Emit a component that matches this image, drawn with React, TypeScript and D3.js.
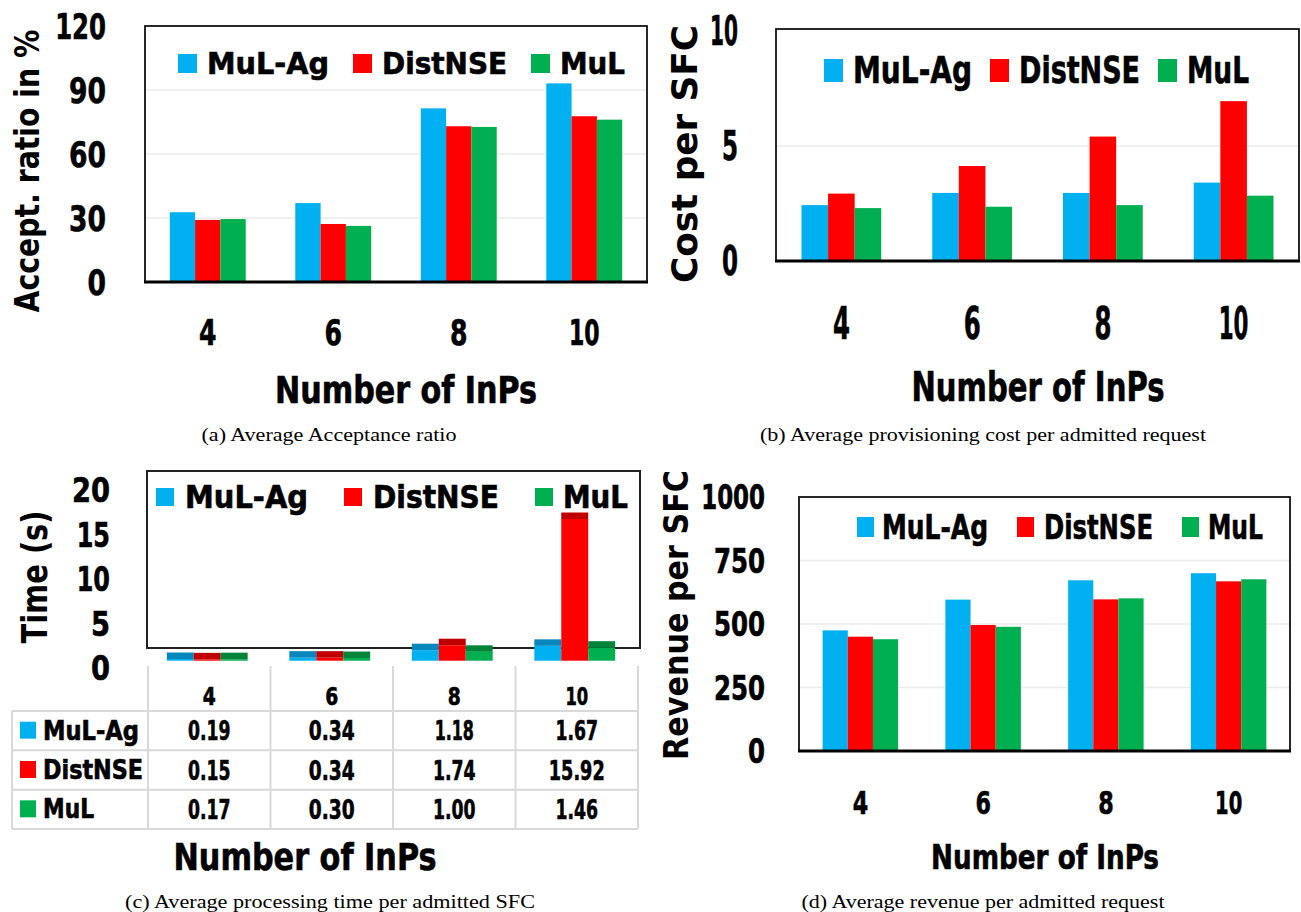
import React from 'react';
import * as d3 from 'd3';

// categories and series
const inps = ['4', '6', '8', '10'];
const series = ['MuL-Ag', 'DistNSE', 'MuL'];
const colors = ['#00B0F0', '#FF0000', '#00B050'];
const capColors = ['#0787BC', '#C00000', '#00843A'];

// (a) acceptance ratio in %
const acceptMuLAg = [32.7, 37.0, 81.4, 93.1];
const acceptDistNSE = [29.1, 27.2, 73.0, 77.7];
const acceptMuL = [29.5, 26.3, 72.7, 76.1];
const acceptTicks = [0, 30, 60, 90, 120];

// (b) cost per SFC
const costMuLAg = [2.43, 2.96, 2.96, 3.41];
const costDistNSE = [2.93, 4.13, 5.41, 6.95];
const costMuL = [2.3, 2.36, 2.43, 2.84];
const costTicks = [0, 5, 10];

// (c) processing time (s)
const timeMuLAg = [0.19, 0.34, 1.18, 1.67];
const timeDistNSE = [0.15, 0.34, 1.74, 15.92];
const timeMuL = [0.17, 0.3, 1.0, 1.46];
const timeTicks = [0, 5, 10, 15, 20];

// (d) revenue per SFC
const revMuLAg = [475, 596, 672, 700];
const revDistNSE = [450, 496, 597, 668];
const revMuL = [440, 489, 601, 676];
const revTicks = [0, 250, 500, 750, 1000];

const COND = "'DejaVu Sans Condensed', 'Liberation Sans Narrow', 'DejaVu Sans', sans-serif";
const WIDE = "'DejaVu Sans', 'Liberation Sans', sans-serif";
const SERIF = "'Liberation Serif', 'Times New Roman', serif";

// rough width of a number label in the narrow original font
function numWidth(s: string, d: number) {
  let w = 0;
  for (const c of s) w += c === '1' ? 0.75 * d : c === '.' ? 0.45 * d : d;
  return w;
}

function Txt(props: any) {
  const { x, y, size, len, anchor = 'middle', family = COND, weight = 700, rot = false, base = 'central', heavy = family === COND, children } = props;
  return (
    <text
      x={x}
      y={y}
      fontSize={size}
      fontFamily={family}
      fontWeight={weight}
      textAnchor={anchor}
      dominantBaseline={base}
      textLength={len}
      lengthAdjust={len ? 'spacingAndGlyphs' : undefined}
      transform={rot ? `rotate(-90 ${x} ${y})` : undefined}
      fill="#000"
      stroke={heavy ? '#000' : undefined}
      strokeWidth={heavy ? 0.6 : undefined}
    >
      {children}
    </text>
  );
}

function Legend({ lg }: any) {
  return (
    <g>
      {series.map((s, i) => (
        <g key={s}>
          <rect x={lg.sq[i]} y={lg.sqY} width={lg.w} height={lg.h} fill={colors[i]} />
          <Txt x={lg.tx[i]} y={lg.base} size={lg.size} len={lg.lens[i]} anchor="start" base="alphabetic">
            {s}
          </Txt>
        </g>
      ))}
    </g>
  );
}

function BarPanel({ cfg }: any) {
  const [bx0, by0, bx1, by1] = cfg.box;
  const x0 = d3
    .scaleBand<string>()
    .domain(inps)
    .range([bx0, bx1])
    .paddingInner(1 - cfg.group)
    .paddingOuter((1 - cfg.group) / 2);
  const x1 = d3.scaleBand<string>().domain(series).range([0, x0.bandwidth()]);
  const y = d3.scaleLinear().domain(cfg.yDomain).range(cfg.yRange);
  const top = cfg.ticks[cfg.ticks.length - 1];
  return (
    <g>
      {cfg.ticks
        .filter((t: number) => t > 0 && t < top)
        .map((t: number) => (
          <line key={t} x1={bx0} x2={bx1} y1={y(t)} y2={y(t)} stroke="#ebebeb" strokeWidth={1.5} />
        ))}
      {cfg.data.map((vals: number[], si: number) =>
        vals.map((v, ci) => (
          <rect
            key={si + '-' + ci}
            x={(x0(inps[ci]) as number) + (x1(series[si]) as number)}
            y={y(v)}
            width={x1.bandwidth()}
            height={y(0) - y(v)}
            fill={colors[si]}
          />
        ))
      )}
      <rect x={bx0} y={by0} width={bx1 - bx0} height={by1 - by0} fill="none" stroke="#111" strokeWidth={1.8} />
      <line x1={bx0 - 1} x2={bx1 + 1} y1={by1} y2={by1} stroke="#000" strokeWidth={3} />
      <Legend lg={cfg.legend} />
      {cfg.ticks.map((t: number) => (
        <Txt key={t} x={cfg.yLab.right} y={y(t)} size={cfg.yLab.size} len={numWidth(String(t), cfg.yLab.d)} anchor="end">
          {String(t)}
        </Txt>
      ))}
      <Txt x={cfg.yTitle.x} y={cfg.yTitle.y} size={cfg.yTitle.size} len={cfg.yTitle.len} family={WIDE} rot>
        {cfg.yTitle.text}
      </Txt>
      {inps.map((c) => (
        <Txt key={c} x={(x0(c) as number) + x0.bandwidth() / 2} y={cfg.xLab.y} size={cfg.xLab.size} len={numWidth(c, cfg.xLab.d)}>
          {c}
        </Txt>
      ))}
      <Txt x={cfg.xTitle.x} y={cfg.xTitle.y} size={cfg.xTitle.size} len={cfg.xTitle.len}>
        Number of InPs
      </Txt>
      <Txt x={cfg.caption.x} y={cfg.caption.y} size={18} len={cfg.caption.len} family={SERIF} weight={400}>
        {cfg.caption.text}
      </Txt>
    </g>
  );
}

const panelA = {
  box: [145, 26, 647, 282],
  yDomain: [0, 120],
  yRange: [282, 26],
  ticks: acceptTicks,
  data: [acceptMuLAg, acceptDistNSE, acceptMuL],
  group: 0.605,
  yLab: { right: 106, size: 36, d: 18.5 },
  yTitle: { text: 'Accept. ratio in %', x: 27, y: 171, size: 33, len: 283 },
  xLab: { y: 333, size: 35, d: 17.5 },
  xTitle: { x: 406, y: 390, size: 37, len: 262 },
  legend: { sq: [178, 353, 531], sqY: 54, w: 19, h: 19, tx: [207, 382, 560], base: 74, size: 31, lens: [122, 125, 65] },
  caption: { text: '(a) Average Acceptance ratio', x: 329, y: 435, len: 255 },
};

const panelB = {
  box: [776, 29, 1299, 261],
  yDomain: [0, 10],
  yRange: [261, 31],
  ticks: costTicks,
  data: [costMuLAg, costDistNSE, costMuL],
  group: 0.61,
  yLab: { right: 738, size: 41, d: 16 },
  yTitle: { text: 'Cost per SFC', x: 684, y: 154, size: 36, len: 258 },
  xLab: { y: 323, size: 44, d: 17 },
  xTitle: { x: 1038, y: 387, size: 41, len: 253 },
  legend: { sq: [824, 990, 1158], sqY: 59, w: 19, h: 23, tx: [853, 1019, 1187], base: 83, size: 38, lens: [119, 121, 62] },
  caption: { text: '(b) Average provisioning cost per admitted request', x: 983, y: 435, len: 446 },
};

const panelD = {
  box: [799, 497, 1290, 751],
  yDomain: [0, 1000],
  yRange: [751, 497],
  ticks: revTicks,
  data: [revMuLAg, revDistNSE, revMuL],
  group: 0.615,
  yLab: { right: 765, size: 34, d: 17 },
  yTitle: { text: 'Revenue per SFC', x: 676, y: 615, size: 34, len: 290 },
  xLab: { y: 803, size: 32, d: 15.5 },
  xTitle: { x: 1045, y: 857, size: 34, len: 228 },
  legend: { sq: [857, 1017, 1182], sqY: 517, w: 17, h: 20, tx: [882, 1044, 1208], base: 539, size: 33, lens: [106, 109, 55] },
  caption: { text: '(d) Average revenue per admitted request', x: 983, y: 902, len: 363 },
};

function TimePanel() {
  const data = [timeMuLAg, timeDistNSE, timeMuL];
  const x0 = d3.scaleBand<string>().domain(inps).range([146, 636]).paddingInner(0.34).paddingOuter(0.17);
  const x1 = d3.scaleBand<string>().domain(series).range([0, x0.bandwidth()]);
  const y = d3.scaleLinear().domain([0, 20]).range([660.7, 482.7]);
  const cap = 6.5;
  const tx = d3.scaleBand<string>().domain(inps).range([148, 638]);
  const rows = d3.scaleBand<string>().domain(series).range([711, 829]);
  const colLines = [...inps.map((c) => tx(c) as number), 638];
  const rowLines = [...series.map((s) => rows(s) as number), 829];
  const grid = '#d9d9d9';
  const legend = { sq: [156, 344, 535], sqY: 488, w: 18, h: 18, tx: [185, 373, 563], base: 508, size: 32, lens: [123, 126, 65] };
  const rowLens = [96, 100, 51];
  return (
    <g>
      <rect x={147} y={471} width={493} height={177} fill="none" stroke="#222" strokeWidth={2} />
      {data.map((vals, si) =>
        vals.map((v, ci) => {
          const bx = (x0(inps[ci]) as number) + (x1(series[si]) as number);
          return (
            <g key={si + '-' + ci}>
              <rect x={bx} y={y(v)} width={x1.bandwidth()} height={y(0) - y(v)} fill={colors[si]} />
              <rect x={bx} y={y(v) - cap} width={x1.bandwidth()} height={cap} fill={capColors[si]} />
            </g>
          );
        })
      )}
      <Legend lg={legend} />
      {timeTicks.map((t) => (
        <Txt key={t} x={110} y={y(t) + 7.5} size={34} len={numWidth(String(t), 19)} anchor="end">
          {String(t)}
        </Txt>
      ))}
      <Txt x={34} y={577} size={36} len={133} family={WIDE} rot>
        Time (s)
      </Txt>
      {/* data table */}
      {colLines.map((cx, i) => (
        <line key={'c' + i} x1={cx} x2={cx} y1={666} y2={829} stroke={grid} strokeWidth={2} />
      ))}
      <line x1={12} x2={12} y1={711} y2={829} stroke={grid} strokeWidth={2} />
      {rowLines.map((ry, i) => (
        <line key={'r' + i} x1={12} x2={638} y1={ry} y2={ry} stroke={grid} strokeWidth={2} />
      ))}
      {inps.map((c) => (
        <Txt key={c} x={(tx(c) as number) + tx.bandwidth() / 2} y={697} size={24} len={numWidth(c, 13)}>
          {c}
        </Txt>
      ))}
      {series.map((s, si) => {
        const cy = (rows(s) as number) + rows.bandwidth() / 2;
        return (
          <g key={s}>
            <rect x={20} y={cy - 9} width={16} height={17} fill={colors[si]} />
            <Txt x={43} y={cy} size={26} len={rowLens[si]} anchor="start">
              {s}
            </Txt>
            {data[si].map((v, ci) => {
              const str = v.toFixed(2);
              return (
                <Txt key={ci} x={(tx(inps[ci]) as number) + tx.bandwidth() / 2} y={cy} size={27} len={numWidth(str, 13.3)}>
                  {str}
                </Txt>
              );
            })}
          </g>
        );
      })}
      <Txt x={305} y={857} size={38} len={263}>
        Number of InPs
      </Txt>
      <Txt x={330} y={902} size={18} len={410} family={SERIF} weight={400}>
        (c) Average processing time per admitted SFC
      </Txt>
    </g>
  );
}

export default function App() {
  return (
    <div style={{ position: 'absolute', left: 0, top: 0 }}>
      <svg width={1301} height={912} style={{ display: 'block', background: '#fff' }}>
        <rect width={1301} height={912} fill="#fff" />
        <BarPanel cfg={panelA} />
        <BarPanel cfg={panelB} />
        <TimePanel />
        <BarPanel cfg={panelD} />
      </svg>
    </div>
  );
}
